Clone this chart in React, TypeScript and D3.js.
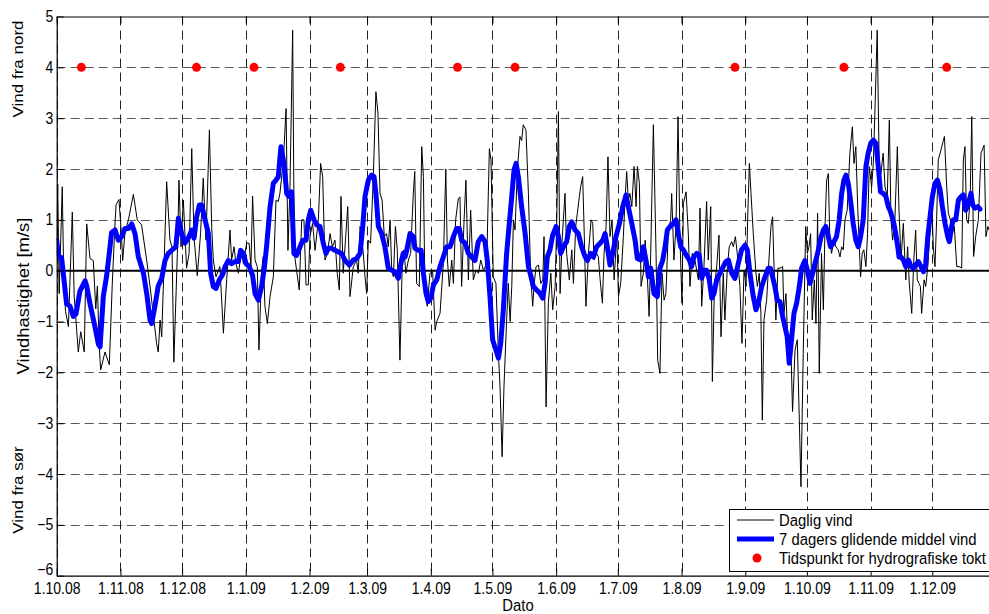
import React, { useEffect, useRef } from 'react';
import * as d3 from 'd3';

// Daily wind (m/s). First value = day offset from 1.10.08
const dailyWind: [number, number][] = [
  [0, 0.6], [0.5, 1.7], [1.2, -0.45], [2.7, 1.65], [3.5, -0.3], [4.3, -0.8], [5.7, -1.1], [7.6, 1.15], [8.5, -0.5], [10.5, -1.6],
  [11.7, -1.2], [13.4, -1.6], [14.6, 0.92], [16.2, 0.24], [17.8, 0.2], [19, -0.75], [19.8, -0.3], [20.7, -1.5], [21.4, -1.95], [23.5, -1.6],
  [25.6, -1.85], [27, -0.3], [28.2, 0.8], [28.9, 1.3], [30.3, 1.4], [31.5, 0.7], [32.1, 0.2], [33.2, 0.75], [34.9, 1.0], [37.3, 1.5],
  [39.2, 1.0], [41.3, 0.9], [43.8, 0.2], [45.4, -0.3], [48.6, -1.43], [49.4, -1.6], [50.3, -0.97], [51.1, -1.3], [53.5, 1.75], [55.1, 0.6],
  [56.1, 0.47], [57, -1.8], [58.7, 0.34], [59.5, 1.78], [60.5, 0.47], [61.6, 1.39], [63.2, 0.05], [64.4, 0.34], [65.7, 2.4], [66.8, 0.67],
  [68.4, -0.1], [70, 0.73], [71.3, 1.82], [72.6, 0.6], [74.3, 2.77], [75.4, 0.87], [76.2, 0.21], [77.5, -0.12], [79.4, 0.08], [81.1, -1.23],
  [82.7, -0.18], [84.3, 0.8], [85.1, 0.21], [86.3, 0.47], [87.2, 0.14], [88.4, -0.05], [90, 0.4], [90.8, 0.14], [92.4, 0.54], [93.6, 0.54],
  [94.5, 0.08], [95.3, 1.47], [96.5, 0.21], [97.6, 0.08], [98.4, -1.56], [99.7, 0.01], [100.5, 0.28], [101.3, -0.7], [102.5, -1.04], [103.8, -0.51],
  [105.4, -0.12], [106.7, 1.39], [107.8, 1.36], [108.6, 1.52], [110.3, 2.18], [111.6, 3.19], [112.5, 0.4], [113.5, 1.65], [114.8, 4.73], [115.6, 0.34],
  [118, -0.38], [119.2, 1.0], [120.3, 1.0], [121.3, -0.28], [122.4, -0.28], [123.2, 0.67], [124.5, 0.93], [125.7, 0.4], [127.3, 1.0], [128.4, 2.11],
  [129.4, 1.85], [130.5, 0.21], [131.7, 0.34], [133, 0.73], [134.1, 0.47], [135.4, 0.6], [136.5, -0.05], [137.5, -0.38], [138.3, 1.46], [139.4, -0.05],
  [140.7, 0.73], [141.6, 1.26], [142.7, -0.51], [144.3, 0.08], [145.9, 0.21], [146.7, -0.05], [147.6, 0.87], [149.2, 0.34], [150, -0.12], [150.8, -0.45],
  [151.6, 0.6], [152.7, 0.54], [154, 1.78], [155.3, 3.52], [156.3, 3.1], [157.3, 1.52], [158.3, 1.39], [159.4, 0.67], [160.5, 0.73], [161.3, 0.47],
  [162.2, 1.0], [163, 0.01], [163.8, -0.12], [164.8, 0.87], [165.7, 0.41], [167, -1.76], [168.2, 0.28], [168.9, 0.41], [169.9, -0.05], [171.1, 0.21],
  [172.2, 0.34], [173.5, 1.52], [174.2, 1.95], [175.1, -0.25], [176.4, -0.31], [177.6, 2.44], [178.4, 1.85], [179.2, -0.45], [180.3, -0.7], [181.6, -0.05],
  [182.9, -0.02], [184.1, -1.17], [184.9, -1.0], [186.5, -0.84], [188.1, 0.14], [189.3, 2.0], [190.1, 0.21], [191, -0.31], [192.2, 0.21], [193, -0.25],
  [194.1, 1.0], [195.4, 1.42], [196.2, 1.45], [197, -0.31], [198.2, 1.0], [199.1, 1.78], [200.3, -0.18], [201.4, 1.19], [202.7, -0.18], [204, 0.01],
  [205.2, -0.05], [206.3, 0.21], [207.6, 0.01], [209.2, 0.14], [210.5, 2.4], [211.3, 2.18], [212.4, -0.12], [213.7, -0.25], [214.9, -1.63], [215.7, -2.29],
  [216.7, -3.66], [217.6, -2.29], [218.9, -0.97], [219.7, -0.25], [220.6, -1.0], [221.4, -0.31], [222.2, 1.0], [223, 0.8], [224.1, 1.98], [225.4, 2.64],
  [226.2, 2.56], [227, 2.87], [228.3, 2.77], [229.5, 1.52], [230.6, -0.12], [231.6, -0.7], [232.2, -0.31], [233.2, 0.08], [234.4, 0.11], [235.5, -0.25],
  [236.5, -0.18], [237.1, 0.67], [238.1, -2.68], [239.2, -0.64], [240.4, -0.05], [241.3, -0.77], [242.5, -0.31], [243.3, 1.0], [244.1, 3.13], [244.9, -0.45],
  [246, 0.67], [247.3, 1.52], [248.1, 0.34], [249.4, -0.18], [250.6, 0.41], [251.4, -0.25], [252.5, 0.87], [253.3, 1.13], [254.3, 1.46], [254.9, 1.65],
  [255.9, 1.85], [256.7, 0.67], [257.5, -0.7], [258.7, 0.34], [260, 1.0], [260.8, 0.93], [261.4, 0.21], [262.7, 0.34], [263.5, 0.28], [264.4, -0.18],
  [265.5, -0.64], [266.3, 0.34], [267.3, 0.87], [268.2, 2.24], [269.2, 0.67], [270.2, 1.0], [271.2, -0.18], [272.5, 0.73], [273.3, -0.51], [274.4, -0.25],
  [275.7, 0.67], [276.5, 1.39], [277.3, 1.95], [278.1, 1.39], [278.9, 1.52], [279.8, 1.26], [280.9, 2.05], [281.9, 1.26], [282.5, 2.05], [283.5, 1.72],
  [284.3, -0.31], [285.4, -0.05], [286.3, 0.6], [287.1, 0.14], [288.2, -0.9], [289, 0.34], [290.3, 2.87], [291.6, 0.34], [292.4, -1.76], [293.5, -2.02],
  [294.5, -0.05], [295.5, -0.58], [296.4, -0.45], [297.6, 0.8], [298.7, 1.0], [299.2, 1.52], [300.3, 0.21], [301.3, 0.87], [302.3, 3.03], [303.2, 0.67],
  [304.2, -0.64], [304.9, 1.32], [306.2, 1.55], [307.3, 0.73], [308.1, -0.31], [309.2, 0.34], [310.5, 0.21], [312.2, -0.18], [313, 1.23], [313.8, -0.7],
  [314.9, 0.08], [316.2, 1.36], [317, 0.21], [318.2, 1.26], [319, -2.18], [320, -0.31], [321.1, 0.08], [322.2, 0.7], [323.2, -1.3], [324.3, -0.05],
  [325.1, -0.97], [326.3, 0.08], [327.2, 0.47], [328.4, 0.57], [329.2, 0.47], [330.2, 0.67], [331.1, 0.34], [332.4, -0.31], [333.4, -1.43], [334.4, 0.01],
  [335.4, -0.31], [336.2, 1.06], [337, 2.11], [337.8, 1.52], [338.9, 0.73], [340.2, -0.05], [340.9, -0.31], [341.8, -0.05], [342.6, -0.84], [343.3, -2.94],
  [344.1, -0.97], [345.4, -0.58], [346.7, 0.34], [347.5, 0.87], [348.3, 1.06], [348.9, 0.21], [349.9, -0.97], [350.9, 0.05], [351.9, 0.05], [353.2, 0.08],
  [353.8, -0.84], [354.8, -0.45], [355.9, -1.63], [357.1, -1.36], [358, -2.77], [359.2, -1.56], [360.3, -1.36], [361.3, -2.94], [362.1, -4.25], [363.2, -1.63],
  [364.4, 0.87], [365.2, 0.34], [366, 0.47], [366.8, 0.73], [367.6, -0.97], [368.6, -0.18], [369.4, -1.04], [370.2, 1.13], [371, -2.02], [372.1, 0.34],
  [373, -0.77], [373.8, 0.87], [374.6, 1.78], [375.4, 1.91], [376.2, 0.54], [377, 0.34], [378.1, 0.6], [379.1, 0.47], [380.2, 0.41], [381.1, 0.27],
  [381.9, 0.47], [382.7, 0.41], [383.5, 1.0], [384.6, 1.19], [385.9, 2.31], [387.1, 2.83], [387.9, 2.11], [388.8, 2.44], [389.7, 1.26], [390.5, 0.47],
  [391.1, -0.12], [391.9, 0.34], [392.7, 0.41], [393.7, 0.08], [394.5, 0.73], [395.3, 2.05], [396.5, 1.65], [397.3, 2.11], [398.2, 3.29], [399.2, 4.73],
  [400.2, 1.98], [401, 1.91], [402.1, 2.31], [403, 1.65], [404.1, 1.46], [405.1, 2.96], [405.9, 1.0], [406.7, 0.6], [407.8, 1.0], [409, 2.44],
  [409.8, 1.19], [410.8, 0.21], [411.9, 0.93], [413.1, -0.18], [414, 0.47], [414.8, -0.25], [416, -0.84], [417, 0.21], [417.9, 0.8], [418.7, -0.18],
  [419.5, -0.25], [420.2, -0.31], [420.8, -0.84], [422, -0.18], [422.8, -0.31], [423.8, 0.08], [424.7, 0.67], [425.7, 1.39], [426.5, 0.47], [427.3, 0.08],
  [428.1, 1.0], [428.9, 2.18], [429.8, 2.31], [430.6, 2.44], [431.9, 2.64], [433, 1.65], [433.8, 1.13], [434.8, 1.0], [435.8, 0.73], [436.7, 0.87],
  [437.9, 0.08], [439, 0.08], [440.3, 0.05], [441.1, 2.18], [441.9, 2.44], [442.7, 1.0], [443.5, 0.93], [444.4, 1.39], [445.2, 3.03], [446.1, 0.28],
  [447.1, 0.67], [448.4, 1.0], [449.7, 2.31], [451.2, 2.47], [452.1, 0.67], [453, 0.87], [453.6, 0.8]
];

// 7 day moving average (m/s), same day offsets
const movingAvg: [number, number][] = [
  [0, 0.6], [0.8, 0.3], [2.4, 0.25], [3.2, -0.05], [4.8, -0.65], [6.5, -0.7], [8.1, -0.9], [9.4, -0.85], [11.3, -0.4], [13.8, -0.2],
  [14.6, -0.3], [16.2, -0.65], [18.6, -1.1], [20.3, -1.45], [21.1, -1.5], [22.7, -0.5], [24.3, -0.1], [25.6, 0.35], [26.7, 0.75], [28.4, 0.8],
  [30, 0.6], [31.6, 0.67], [33.2, 0.83], [34.9, 0.83], [36.5, 0.92], [38.1, 0.73], [39.7, 0.28], [42.2, -0.05], [43.8, -0.45], [45.4, -0.97],
  [46.2, -1.04], [47.8, -0.7], [49.4, -0.3], [51.1, -0.15], [52.7, 0.2], [54.3, 0.34], [55.9, 0.4], [58, 0.47], [59.2, 1.03], [60.8, 0.73],
  [62.4, 0.54], [64, 0.64], [65.7, 0.8], [66.8, 0.64], [68.1, 1.06], [69.4, 1.29], [70.5, 1.29], [72.2, 1.0], [73.8, 0.73], [74.9, -0.05],
  [76.2, -0.31], [77.5, -0.35], [79.1, -0.18], [80.7, -0.08], [81.9, 0.08], [83.5, 0.2], [85.1, 0.14], [86.7, 0.18], [88.4, 0.18], [89.5, 0.4],
  [90.8, 0.34], [92.1, 0.14], [93.7, 0.08], [95.3, -0.09], [96.5, -0.45], [98.1, -0.58], [99.7, -0.31], [101, 0.05], [102.1, 0.47], [103.8, 1.26],
  [105.4, 1.72], [106.7, 1.78], [107.8, 1.85], [109.1, 2.44], [110.6, 2.11], [111.9, 1.52], [113, 1.46], [114.3, 1.55], [115.4, 0.34], [116.7, 0.3],
  [118.4, 0.47], [119.7, 0.6], [121.3, 0.6], [122.4, 1.0], [123.6, 1.19], [125.2, 1.0], [126.5, 0.9], [128.1, 0.87], [129.7, 0.54], [131, 0.34],
  [132.2, 0.44], [133.8, 0.44], [135.4, 0.4], [137, 0.37], [138.6, 0.34], [140.3, 0.2], [142.4, 0.11], [144.3, 0.21], [145.9, 0.24], [147.6, 0.34],
  [148.9, 0.87], [150, 1.46], [151.6, 1.78], [153.2, 1.88], [154.4, 1.85], [155.3, 1.52], [156.5, 0.87], [158.1, 0.73], [159.7, 0.47], [161.3, 0.05],
  [163, 0.01], [164.6, -0.02], [166.2, -0.15], [167.8, 0.21], [168.6, 0.34], [169.5, 0.27], [170.3, 0.4], [171.9, 0.73], [173.5, 0.67], [174.3, 0.44],
  [176, 0.4], [177.3, 0.4], [178.4, -0.05], [179.7, -0.45], [180.8, -0.61], [182, -0.54], [183.3, -0.28], [184.9, -0.18], [186.5, 0.08], [188.1, 0.27],
  [189.7, 0.47], [191.4, 0.47], [193, 0.67], [194.6, 0.83], [195.9, 0.83], [197, 0.6], [198.7, 0.54], [200.3, 0.34], [201.9, 0.27], [203.5, 0.2],
  [205.1, 0.57], [206.8, 0.67], [208.4, 0.57], [209.5, 0.2], [210.8, -0.51], [212.1, -1.36], [213.7, -1.56], [214.9, -1.72], [216, -1.44], [217.3, -0.77],
  [218.9, 0.34], [220.2, 0.93], [221.4, 1.46], [222.5, 1.98], [223.5, 2.11], [224.6, 1.85], [226.2, 1.26], [227.9, 0.73], [229.5, 0.08], [230.6, -0.09],
  [231.9, -0.31], [233.5, -0.38], [235.2, -0.45], [236.5, -0.54], [237.6, -0.25], [238.7, 0.27], [240, 0.41], [241.3, 0.7], [243, 0.87], [244.1, 0.67],
  [245.2, 0.34], [246.5, 0.47], [248.1, 0.57], [249.4, 0.87], [250.6, 0.96], [252.2, 0.8], [253.8, 0.73], [255.4, 0.47], [257.1, 0.27], [258.2, 0.2],
  [259.8, 0.34], [261.1, 0.27], [262.7, 0.47], [264.4, 0.54], [265.7, 0.6], [266.8, 0.73], [267.9, 0.47], [269.2, 0.11], [270.5, 0.34], [272.1, 0.67],
  [273.8, 0.93], [275.4, 1.26], [277, 1.49], [278.1, 1.26], [279.8, 0.93], [281.4, 0.6], [282.5, 0.24], [284.1, 0.21], [285.4, 0.47], [286.7, 0.21],
  [287.9, -0.12], [289, 0.05], [290.6, -0.45], [292.2, -0.51], [293.5, 0.05], [294.8, 0.2], [296, 0.47], [297.1, 0.8], [298.4, 0.87], [300, 0.93],
  [301.3, 1.0], [302.4, 0.73], [303.6, 0.47], [304.9, 0.41], [306.2, 0.31], [307.8, 0.21], [308.9, 0.08], [310, 0.27], [311.4, 0.34], [312.6, 0.31],
  [313.8, -0.15], [315.1, 0.01], [316.2, 0.01], [317.5, -0.18], [318.7, -0.54], [319.8, -0.45], [321.1, -0.18], [322.7, -0.05], [324.3, 0.08], [325.6, 0.18],
  [326.8, 0.21], [328.4, -0.05], [330, -0.15], [331.6, 0.14], [333.2, 0.41], [334.9, 0.5], [336, 0.41], [337.3, -0.05], [338.9, -0.51], [340.2, -0.77],
  [341.4, -0.64], [343, -0.31], [344.6, -0.12], [346.2, 0.05], [347.2, 0.05], [348.3, -0.12], [349.4, -0.31], [350.6, -0.58], [351.9, -0.61], [353.2, -0.9],
  [354.3, -1.1], [355.4, -1.3], [356.4, -1.82], [357.5, -1.36], [358.7, -0.84], [360, -0.64], [361.3, -0.31], [362.4, 0.05], [364, 0.2], [365.2, 0.01],
  [366.5, -0.25], [367.8, -0.05], [368.9, 0.14], [370.2, 0.34], [371.7, 0.64], [373, 0.8], [374.2, 0.87], [375.4, 0.67], [376.5, 0.47], [377.8, 0.54],
  [379.4, 0.67], [380.7, 1.0], [381.9, 1.52], [383, 1.78], [384, 1.88], [385.1, 1.72], [386.2, 1.39], [387.5, 0.93], [388.8, 0.6], [390, 0.47],
  [391.1, 0.67], [392.4, 1.0], [393.7, 2.05], [394.8, 2.31], [396, 2.5], [397.3, 2.57], [398.6, 2.5], [399.7, 2.05], [400.8, 1.55], [402.1, 1.52],
  [403.4, 1.46], [404.6, 1.26], [405.7, 1.16], [407.3, 0.93], [408.2, 0.73], [409.2, 0.47], [409.8, 0.27], [410.8, 0.27], [411.9, 0.21], [413.1, 0.08],
  [414.4, 0.21], [415.7, 0.08], [416.8, 0.05], [417.9, 0.11], [419.2, 0.18], [420.5, 0.08], [421.7, -0.02], [422.8, 0.14], [423.8, 0.67], [424.9, 1.06],
  [426, 1.45], [427.3, 1.72], [428.5, 1.78], [429.8, 1.59], [430.9, 1.26], [432.2, 0.93], [433.5, 0.67], [434.3, 0.57], [435.4, 0.87], [436.2, 1.0],
  [437.4, 1.0], [438.7, 1.39], [440, 1.46], [441.1, 1.49], [442.2, 1.19], [443.5, 1.31], [444.8, 1.52], [445.7, 1.29], [446.8, 1.23], [448.1, 1.26],
  [449.2, 1.21]
];

// hydrographic survey dates (plotted at y = 4)
const toktDates = ['2008-10-13', '2008-12-08', '2009-01-05', '2009-02-16', '2009-04-14', '2009-05-12', '2009-08-27', '2009-10-19', '2009-12-08'];
const toktLevel = 4;

const yTicks = [-6, -5, -4, -3, -2, -1, 0, 1, 2, 3, 4, 5];
const legendLabels = ['Daglig vind', '7 dagers glidende middel vind', 'Tidspunkt for hydrografiske tokt'];

const W = 989;
const H = 614;
const START = new Date(2008, 9, 1);
const END = new Date(2009, 11, 31);
const FONT = "'Liberation Sans', Arial, Helvetica, sans-serif";
const SX = 0.875; // the original picture is squeezed horizontally

const dayToDate = (d: number) => new Date(START.getTime() + d * 864e5);
const parseDate = (s: string) => {
  const [yy, mm, dd] = s.split('-').map(Number);
  return new Date(yy, mm - 1, dd);
};

export default function App() {
  const svgRef = useRef<SVGSVGElement>(null);

  useEffect(() => {
    if (!svgRef.current) return;
    const svg = d3.select(svgRef.current);
    svg.selectAll('*').remove();

    const left = 56.7;
    const top = 16.5;
    const bottom = 575.7;
    const pxPerDay = 2.0554;

    const x = d3.scaleTime()
      .domain([START, END])
      .range([left, left + d3.timeDay.count(START, END) * pxPerDay]);
    const y = d3.scaleLinear().domain([-6, 5]).range([bottom, top]);
    const months = d3.timeMonth.range(START, END);
    const fmt = (d: Date) => `${d.getDate()}.${d.getMonth() + 1}.${String(d.getFullYear()).slice(2)}`;

    svg.append('rect').attr('width', W).attr('height', H).attr('fill', '#fff');

    svg.append('defs').append('clipPath').attr('id', 'plot-clip')
      .append('rect')
      .attr('x', left).attr('y', top)
      .attr('width', W - left).attr('height', bottom - top);

    // grid
    const grid = svg.append('g');
    grid.selectAll('.hgrid')
      .data(yTicks.filter(v => v > -6 && v < 5 && v !== 0))
      .enter().append('line')
      .attr('x1', left).attr('x2', W)
      .attr('y1', d => Math.round(y(d)) + 0.5).attr('y2', d => Math.round(y(d)) + 0.5)
      .attr('stroke', '#5a5a5a').attr('stroke-width', 1)
      .attr('stroke-dasharray', '9,5');
    grid.selectAll('.vgrid')
      .data(months)
      .enter().append('line')
      .attr('x1', d => Math.round(x(d)) + 0.5).attr('x2', d => Math.round(x(d)) + 0.5)
      .attr('y1', top).attr('y2', bottom)
      .attr('stroke', '#222').attr('stroke-width', 1)
      .attr('stroke-dasharray', '9,5');

    const plot = svg.append('g').attr('clip-path', 'url(#plot-clip)');

    // zero line
    plot.append('line')
      .attr('x1', left).attr('x2', W)
      .attr('y1', y(0)).attr('y2', y(0))
      .attr('stroke', '#000').attr('stroke-width', 2);

    const line = d3.line<[number, number]>()
      .x(d => x(dayToDate(d[0])))
      .y(d => y(d[1]));

    plot.append('path')
      .datum(dailyWind)
      .attr('d', line)
      .attr('fill', 'none')
      .attr('stroke', '#000')
      .attr('stroke-width', 1)
      .attr('stroke-linejoin', 'round');

    plot.append('path')
      .datum(movingAvg)
      .attr('d', line)
      .attr('fill', 'none')
      .attr('stroke', '#0000ff')
      .attr('stroke-width', 5)
      .attr('stroke-linejoin', 'round')
      .attr('stroke-linecap', 'round');

    plot.selectAll('.tokt')
      .data(toktDates)
      .enter().append('circle')
      .attr('cx', d => x(parseDate(d)))
      .attr('cy', y(toktLevel))
      .attr('r', 4.5)
      .attr('fill', '#ff0000');

    // axes (MATLAB style: ticks pointing inwards, boxed)
    const styleAxis = (g: d3.Selection<SVGGElement, unknown, null, undefined>) => {
      g.attr('font-family', FONT).attr('font-size', 16);
      g.select('.domain').attr('stroke', '#000').attr('stroke-width', 1.2);
      g.selectAll('.tick line').attr('stroke', '#000');
      g.selectAll('.tick text').attr('fill', '#000').attr('transform', `scale(${SX},1)`);
    };

    const xAxis = svg.append('g')
      .attr('transform', `translate(0,${bottom})`)
      .call(d3.axisBottom(x).tickValues(months).tickFormat(d => fmt(d as Date))
        .tickSizeInner(-7).tickSizeOuter(0).tickPadding(7));
    styleAxis(xAxis);

    const xAxisTop = svg.append('g')
      .attr('transform', `translate(0,${top})`)
      .call(d3.axisTop(x).tickValues(months).tickFormat(() => '')
        .tickSizeInner(-7).tickSizeOuter(0));
    styleAxis(xAxisTop);

    const yAxis = svg.append('g')
      .attr('transform', `translate(${left},0)`)
      .call(d3.axisLeft(y).tickValues(yTicks).tickFormat(d3.format('d'))
        .tickSizeInner(-7).tickSizeOuter(0).tickPadding(4));
    styleAxis(yAxis);
    // lowest label sits a little above the corner, as in the original
    yAxis.selectAll<SVGTextElement, number>('.tick text')
      .filter(d => d === -6)
      .attr('y', -6);

    // axis titles
    const label = (text: string, tx: number, ty: number, size: number, rotate: boolean) => {
      svg.append('text')
        .attr('transform', `translate(${tx},${ty}) scale(${SX},1)${rotate ? ' rotate(-90)' : ''}`)
        .attr('text-anchor', 'middle')
        .attr('font-family', FONT)
        .attr('font-size', size)
        .attr('fill', '#000')
        .text(text);
    };
    label('Dato', 518, 611, 17, false);
    label('Vindhastighet [m/s]', 29, 296, 18.5, true);
    label('Vind fra nord', 23, 69, 17, true);
    label('Vind fra sør', 23, 490, 17, true);

    // legend
    const legend = svg.append('g');
    legend.append('rect')
      .attr('x', 729.5).attr('y', 509.5)
      .attr('width', 280).attr('height', 62)
      .attr('fill', '#fff').attr('stroke', '#000').attr('stroke-width', 1);
    const rowY = [520, 539, 558];
    legend.append('line')
      .attr('x1', 737).attr('x2', 774).attr('y1', rowY[0]).attr('y2', rowY[0])
      .attr('stroke', '#000').attr('stroke-width', 1);
    legend.append('line')
      .attr('x1', 737).attr('x2', 774).attr('y1', rowY[1]).attr('y2', rowY[1])
      .attr('stroke', '#0000ff').attr('stroke-width', 5);
    legend.append('circle')
      .attr('cx', 757).attr('cy', rowY[2]).attr('r', 4.5)
      .attr('fill', '#ff0000');
    legend.selectAll('.legend-text')
      .data(legendLabels)
      .enter().append('text')
      .attr('transform', (_, i) => `translate(779,${rowY[i] + 6}) scale(${SX},1)`)
      .attr('font-family', FONT)
      .attr('font-size', 17)
      .attr('fill', '#000')
      .text(d => d);
  }, []);

  return (
    <svg
      ref={svgRef}
      width={W}
      height={H}
      style={{ position: 'absolute', left: 0, top: 0, background: '#fff' }}
    />
  );
}
